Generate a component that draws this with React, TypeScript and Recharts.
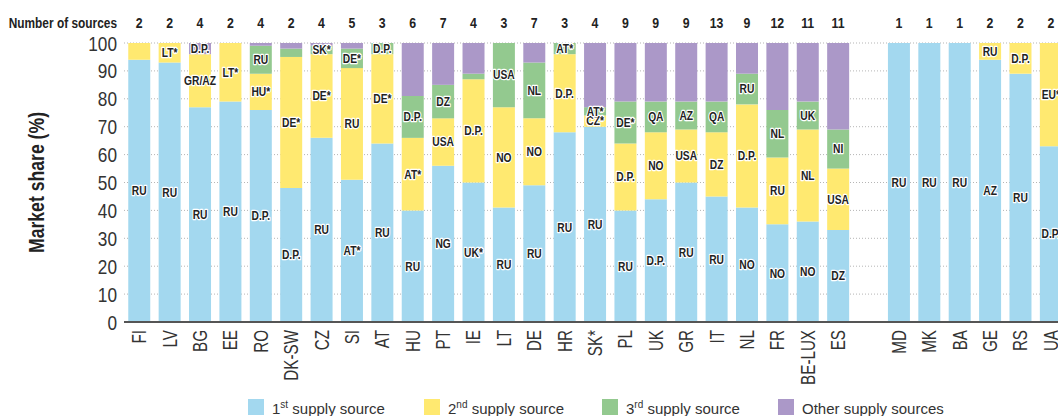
import React from 'react';
import { BarChart, Bar, XAxis, YAxis, CartesianGrid, LabelList } from 'recharts';

// market share (%) by supply source, EU countries then a gap, then neighbours
const countries = ['FI', 'LV', 'BG', 'EE', 'RO', 'DK-SW', 'CZ', 'SI', 'AT', 'HU', 'PT', 'IE', 'LT', 'DE', 'HR', 'SK*', 'PL', 'UK', 'GR', 'IT', 'NL', 'FR', 'BE-LUX', 'ES', '', 'MD', 'MK', 'BA', 'GE', 'RS', 'UA'];
const numSources = [2, 2, 4, 2, 4, 2, 4, 5, 3, 6, 7, 4, 3, 7, 3, 4, 9, 9, 9, 13, 9, 12, 11, 11, null, 1, 1, 1, 2, 2, 2];

const firstShare = [94, 93, 77, 79, 76, 48, 66, 51, 64, 40, 56, 50, 41, 49, 68, 70, 40, 44, 50, 45, 41, 35, 36, 33, 0, 100, 100, 100, 94, 89, 63];
const secondShare = [6, 7, 19, 21, 13, 47, 30, 40, 32, 26, 17, 37, 36, 24, 28, 4, 24, 24, 19, 23, 37, 24, 33, 22, 0, 0, 0, 0, 6, 11, 37];
const thirdShare = [0, 0, 0, 0, 10, 3, 3, 7, 4, 15, 12, 2, 23, 20, 4, 3, 15, 11, 10, 11, 11, 17, 10, 14, 0, 0, 0, 0, 0, 0, 0];
const otherShare = [0, 0, 4, 0, 1, 2, 1, 2, 0, 19, 15, 11, 0, 7, 0, 23, 21, 21, 21, 21, 11, 24, 21, 31, 0, 0, 0, 0, 0, 0, 0];

const firstLabels = ['RU', 'RU', 'RU', 'RU', 'D.P.', 'D.P.', 'RU', 'AT*', 'RU', 'RU', 'NG', 'UK*', 'RU', 'RU', 'RU', 'RU', 'RU', 'D.P.', 'RU', 'RU', 'NO', 'NO', 'NO', 'DZ', '', 'RU', 'RU', 'RU', 'AZ', 'RU', 'D.P.'];
const secondLabels = ['', 'LT*', 'GR/AZ', 'LT*', 'HU*', 'DE*', 'DE*', 'RU', 'DE*', 'AT*', 'USA', 'D.P.', 'NO', 'NO', 'D.P.', 'CZ*', 'D.P.', 'NO', 'USA', 'DZ', 'D.P.', 'RU', 'NL', 'USA', '', '', '', '', 'RU', 'D.P.', 'EU*'];
const thirdLabels = ['', '', '', '', 'RU', '', 'SK*', 'DE*', 'D.P.', 'D.P.', 'DZ', '', 'USA', 'NL', 'AT*', 'AT*', 'DE*', 'QA', 'AZ', 'QA', 'RU', 'NL', 'UK', 'NI', '', '', '', '', '', '', ''];
const otherLabels = ['', '', 'D.P.', '', '', '', '', '', '', '', '', '', '', '', '', '', '', '', '', '', '', '', '', '', '', '', '', '', '', '', ''];

const yTicks = [0, 10, 20, 30, 40, 50, 60, 70, 80, 90, 100];

const COLORS = {
  first: '#A3D8EF',
  second: '#FFE970',
  third: '#93C98F',
  other: '#AB98C8',
};

const FONT = "'Liberation Sans', Arial, sans-serif";

const data = countries.map((name, i) => ({
  name,
  first: firstShare[i],
  second: secondShare[i],
  third: thirdShare[i],
  other: otherShare[i],
  firstLabel: firstLabels[i],
  secondLabel: secondLabels[i],
  thirdLabel: thirdLabels[i],
  otherLabel: otherLabels[i],
}));

// no narrow font installed, so squeeze Liberation Sans along the text direction
const NarrowText = ({ x, y, rotate = 0, squeeze = 0.82, children, ...rest }: any) => (
  <g transform={`translate(${x},${y}) rotate(${rotate}) scale(${squeeze},1)`}>
    <text x={0} y={0} fontFamily={FONT} {...rest}>
      {children}
    </text>
  </g>
);

const SegmentLabel = (props: any) => {
  const { x, y, width, height, value } = props;
  if (!value) return null;
  return (
    <NarrowText
      x={x + width / 2}
      y={y + height / 2}
      textAnchor="middle"
      dominantBaseline="central"
      fontSize={12.5}
      fontWeight="bold"
      fill="#222"
      stroke="#fff"
      strokeWidth={2.5}
      strokeLinejoin="round"
      paintOrder="stroke"
    >
      {value}
    </NarrowText>
  );
};

const CountryTick = (props: any) => {
  const { x, y, payload } = props;
  return (
    <NarrowText x={x} y={y} rotate={-90} squeeze={0.78} textAnchor="end" dy="0.36em" fontSize={19.5} fill="#333">
      {payload.value}
    </NarrowText>
  );
};

const SourcesTick = (props: any) => {
  const { x, y, payload } = props;
  const n = numSources[payload.index];
  if (n == null) return null;
  return (
    <NarrowText x={x} y={y - 15} textAnchor="middle" fontSize={15} fontWeight="bold" fill="#222">
      {n}
    </NarrowText>
  );
};

const ShareTick = (props: any) => {
  const { x, y, payload } = props;
  return (
    <NarrowText x={x} y={y} textAnchor="end" dy="0.36em" fontSize={21} fill="#333">
      {payload.value}
    </NarrowText>
  );
};

const SourcesTitle = (props: any) => {
  const { viewBox } = props;
  return (
    <NarrowText x={viewBox.x - 7} y={viewBox.y + viewBox.height - 15} textAnchor="end" fontSize={14.5} fontWeight="bold" fill="#222">
      Number of sources
    </NarrowText>
  );
};

const ShareTitle = (props: any) => {
  const { viewBox } = props;
  return (
    <NarrowText
      x={viewBox.x + 12}
      y={viewBox.y + viewBox.height / 2}
      rotate={-90}
      textAnchor="middle"
      dominantBaseline="central"
      fontSize={21.5}
      fontWeight="bold"
      fill="#222"
    >
      Market share (%)
    </NarrowText>
  );
};

const legendItems = [
  { key: 'first', ord: '1', sup: 'st', text: ' supply source', left: 248 },
  { key: 'second', ord: '2', sup: 'nd', text: ' supply source', left: 424 },
  { key: 'third', ord: '3', sup: 'rd', text: ' supply source', left: 602 },
  { key: 'other', ord: '', sup: '', text: 'Other supply sources', left: 778 },
];

export default function App() {
  return (
    <div style={{ position: 'absolute', left: 0, top: 0, width: 1058, height: 416, overflow: 'hidden', background: '#fff' }}>
      <BarChart
        width={1080}
        height={416}
        data={data}
        margin={{ top: 0, right: 14, left: 24, bottom: 34 }}
        barCategoryGap="14%"
      >
        <CartesianGrid vertical={false} stroke="#b5b5b5" strokeDasharray="1 2" />
        <XAxis
          xAxisId="top"
          orientation="top"
          dataKey="name"
          height={43}
          axisLine={false}
          tickLine={false}
          tickSize={0}
          tickMargin={0}
          interval={0}
          tick={<SourcesTick />}
          label={<SourcesTitle />}
        />
        <XAxis
          dataKey="name"
          height={60}
          interval={0}
          tickLine={false}
          tickSize={0}
          tickMargin={8}
          axisLine={{ stroke: '#555', strokeWidth: 2 }}
          tick={<CountryTick />}
        />
        <YAxis
          width={100}
          domain={[0, 100]}
          ticks={yTicks}
          interval={0}
          axisLine={false}
          tickLine={false}
          tickSize={0}
          tickMargin={7}
          tick={<ShareTick />}
          label={<ShareTitle />}
        />
        <Bar dataKey="first" stackId="s" fill={COLORS.first} isAnimationActive={false}>
          <LabelList dataKey="firstLabel" content={<SegmentLabel />} />
        </Bar>
        <Bar dataKey="second" stackId="s" fill={COLORS.second} isAnimationActive={false}>
          <LabelList dataKey="secondLabel" content={<SegmentLabel />} />
        </Bar>
        <Bar dataKey="third" stackId="s" fill={COLORS.third} isAnimationActive={false}>
          <LabelList dataKey="thirdLabel" content={<SegmentLabel />} />
        </Bar>
        <Bar dataKey="other" stackId="s" fill={COLORS.other} isAnimationActive={false}>
          <LabelList dataKey="otherLabel" content={<SegmentLabel />} />
        </Bar>
      </BarChart>

      {/* legend */}
      {legendItems.map((it) => (
        <div key={it.key} style={{ position: 'absolute', left: it.left, top: 399, display: 'flex', alignItems: 'flex-start', fontFamily: FONT, fontSize: 15, color: '#333', lineHeight: '18px', whiteSpace: 'nowrap' }}>
          <div style={{ width: 16, height: 16, marginRight: 8, background: (COLORS as any)[it.key] }} />
          <span style={{ marginTop: 1 }}>
            {it.ord}
            {it.sup && <sup style={{ fontSize: 10, lineHeight: 0 }}>{it.sup}</sup>}
            {it.text}
          </span>
        </div>
      ))}
    </div>
  );
}
